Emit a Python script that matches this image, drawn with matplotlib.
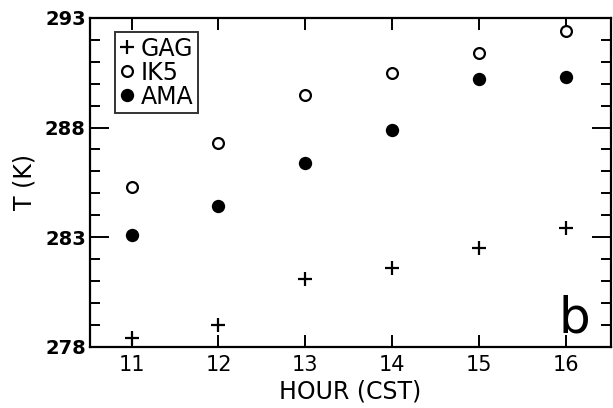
import matplotlib
matplotlib.use('Agg')
import matplotlib.pyplot as plt
from matplotlib.ticker import MultipleLocator

plt.rcParams['font.family'] = ['DejaVu Sans']

hours = [11, 12, 13, 14, 15, 16]
hour_labels = ['11', '12', '13', '14', '15', '16']
temp_ticks = [278, 283, 288, 293]
gag = [278.4, 279.0, 281.1, 281.6, 282.5, 283.4]
ik5 = [285.3, 287.3, 289.5, 290.5, 291.4, 292.4]
ama = [283.1, 284.4, 286.4, 287.9, 290.2, 290.3]

fig = plt.figure(figsize=(6.13, 4.08), dpi=100)
ax = fig.add_axes([0.1468, 0.1502, 0.8499, 0.8057])

ax.plot(hours, gag, ls='none', marker='+', ms=10, mew=1.6, color='black', label='GAG')
ax.plot(hours, ik5, ls='none', marker='o', ms=7.8, mew=1.6, mfc='white', mec='black', label='IK5')
ax.plot(hours, ama, ls='none', marker='o', ms=9.6, mew=0, color='black', label='AMA')

ax.set_xlim(10.52, 16.52)
ax.set_ylim(278, 293)
ax.set_xticks(hours)
ax.set_xticklabels(hour_labels)
ax.set_yticks(temp_ticks)
ax.yaxis.set_minor_locator(MultipleLocator(1))

ax.tick_params(axis='x', which='major', direction='in', top=True, length=8.5, width=1.4,
               labelsize=15, pad=6)
ax.tick_params(axis='y', which='major', direction='in', right=True, length=14, width=1.4,
               labelsize=14, pad=3)
ax.tick_params(axis='y', which='minor', direction='in', right=True, length=7.5, width=1.4)
for lab in ax.get_yticklabels():
    lab.set_fontweight('bold')

for sp in ax.spines.values():
    sp.set_linewidth(1.6)

ax.set_xlabel('HOUR (CST)', fontsize=17, labelpad=3)
ax.set_ylabel('T (K)', fontsize=17, labelpad=6)

ax.text(0.929, 0.042, 'b', transform=ax.transAxes, fontsize=36, ha='center', va='baseline')

leg = ax.legend(loc='upper left', bbox_to_anchor=(0.048, 0.958), fontsize=17,
                frameon=True, fancybox=False, handlelength=0.6, handletextpad=0.3,
                borderpad=0.2, labelspacing=0.0, borderaxespad=0)
leg.get_frame().set_edgecolor('black')
leg.get_frame().set_linewidth(1.4)

fig.savefig('out.png', dpi=100)
